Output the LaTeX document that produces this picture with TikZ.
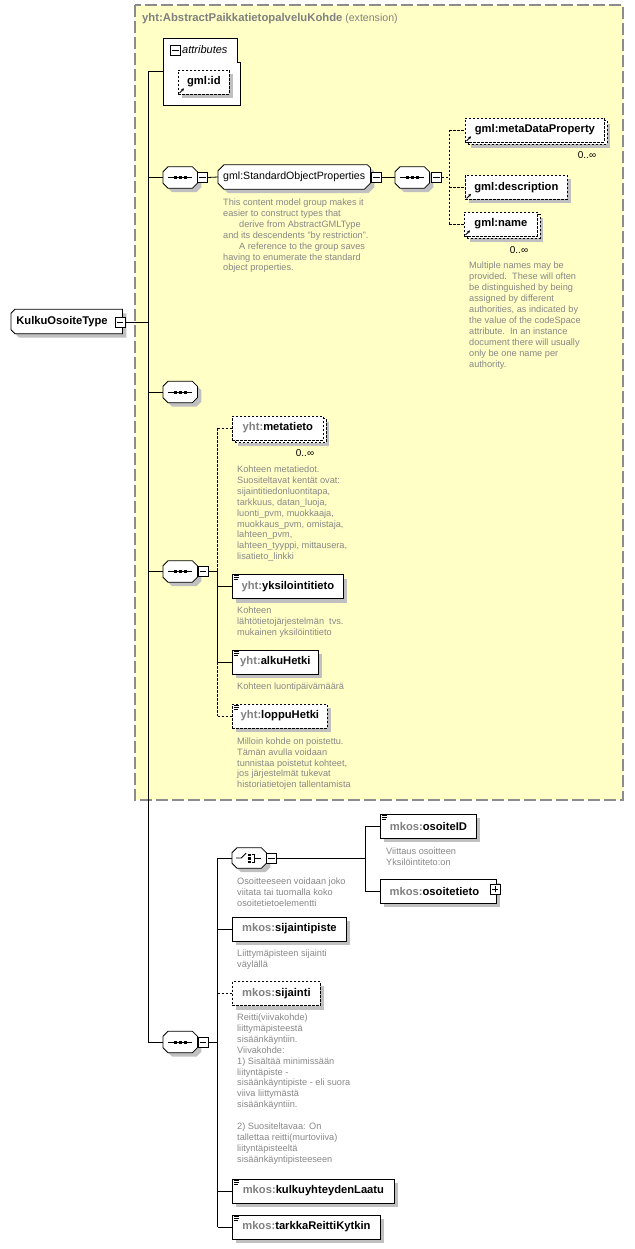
\documentclass[tikz,border=0pt]{standalone}
\usepackage{fontspec}
\setmainfont{Liberation Sans}
\usetikzlibrary{shadows,arrows.meta,calc}
\definecolor{ybg}{HTML}{FFFFC6}
\definecolor{pfx}{HTML}{808080}
\definecolor{dsc}{HTML}{878787}
\definecolor{shd}{HTML}{C0C0C0}
\definecolor{frm}{HTML}{8C8C8C}
\newcommand\lblfont{\fontsize{11.2}{13}\selectfont\bfseries}
\newcommand\regfont{\fontsize{10.6}{12}\selectfont}
\newcommand\dscfont{\fontsize{9.2}{10.9}\selectfont\color{dsc}}
\newcommand\pre[1]{\textcolor{pfx}{#1}}
\tikzset{
  shdw/.style={drop shadow={shadow xshift=4pt,shadow yshift=-4pt,opacity=1,fill=shd}},
  conn/.style={line width=0.8pt},
  optconn/.style={conn, dash pattern=on 2.5pt off 1.5pt},
  elbox/.style={draw=black, fill=white, line width=0.8pt, minimum height=24pt, inner sep=0pt, anchor=west, font=\lblfont, shdw},
  optbox/.style={elbox, dash pattern=on 2.5pt off 1.5pt},
  multibox/.style={draw=black, fill=white, line width=0.8pt, minimum height=24pt, inner sep=0pt, anchor=west, font=\lblfont, dash pattern=on 2.5pt off 1.5pt,
     drop shadow={shadow xshift=6pt,shadow yshift=-6pt,opacity=1,fill=shd},
     copy shadow={shadow xshift=2.5pt,shadow yshift=-2.5pt,opacity=1,fill=white,draw=black}},
  desc/.style={anchor=north west, align=left, inner sep=0pt, font=\dscfont},
  occ/.style={anchor=center, inner sep=0pt, font=\fontsize{10}{11}\selectfont},
  minbox/.style={draw=black, fill=white, line width=0.8pt, minimum width=10pt, minimum height=10pt, inner sep=0pt},
  holder/.style={anchor=west, inner sep=0pt, minimum width=34pt, minimum height=21pt}
}
\newcommand\octpath[1]{([xshift=5pt]#1.north west) -- ([xshift=-5pt]#1.north east) -- ([yshift=-5pt]#1.north east) -- ([yshift=5pt]#1.south east) -- ([xshift=-5pt]#1.south east) -- ([xshift=5pt]#1.south west) -- ([yshift=5pt]#1.south west) -- ([yshift=-5pt]#1.north west) -- cycle}
\newcommand\mkoct[3]{\node[holder] (#1) at (#2,#3) {};
  \draw[conn, fill=white, shdw] \octpath{#1};}
\newcommand\seqicon[1]{\draw[conn] ([xshift=5pt]#1.west) -- ([xshift=-5pt]#1.east);
  \foreach \dx in {-5,0,5} {\fill ([xshift=\dx pt]#1.center) +(-1.5pt,-1.5pt) rectangle +(1.5pt,1.5pt);}}
\newcommand\minusat[3]{\node[minbox] (#1) at (#2,#3) {};
  \draw[line width=0.8pt] ([xshift=2pt]#1.west) -- ([xshift=-2pt]#1.east);}
\newcommand\plusat[3]{\minusat{#1}{#2}{#3}
  \draw[line width=0.8pt] ([yshift=2pt]#1.south) -- ([yshift=-2pt]#1.north);}
\newcommand\simpicon[1]{\draw[line width=0.7pt] ([xshift=2pt,yshift=-1.5pt]#1.north west) -- ++(5pt,0pt)
  ([xshift=2pt,yshift=-3.5pt]#1.north west) -- ++(5pt,0pt)
  ([xshift=2pt,yshift=-5.5pt]#1.north west) -- ++(3.5pt,0pt);}
\newcommand\refarrow[1]{\draw[line width=0.9pt,-{Stealth[length=3pt,width=3pt]}] ([xshift=1.5pt,yshift=1.5pt]#1.south west) -- ++(4.5pt,4.5pt);}
\begin{document}
\begin{tikzpicture}[x=1pt,y=-1pt]
\useasboundingbox (0,0) rectangle (634,1249);
% extension frame
\draw[frm, line width=1.2pt, dash pattern=on 12pt off 4pt, fill=ybg] (135,5) rectangle (623,800);
\node[anchor=west, inner sep=0pt, text=pfx] (title) at (142,18.5) {{\fontsize{11.3}{13}\selectfont\bfseries yht:AbstractPaikkatietopalveluKohde} {\regfont(extension)}};

% root type
\node[anchor=west, minimum width=111pt, minimum height=24pt, inner sep=0pt] (type) at (11,321.5) {};
\draw[conn, fill=white, shdw] ([xshift=4pt]type.north west) -- (type.north east) -- (type.south east) -- ([xshift=4pt]type.south west) -- ([yshift=4pt]type.south west) -- ([yshift=-4pt]type.north west) -- cycle;
\node[font=\lblfont, inner sep=0pt] (typeLbl) at (62,321.5) {KulkuOsoiteType};
\minusat{typeMinus}{120}{322}

% attributes
\node[anchor=north west, minimum width=77pt, minimum height=67pt, inner sep=0pt] (attr) at (163,38) {};
\draw[conn, fill=white] (attr.north west) -- ([xshift=-3.5pt]attr.north east) -- ([xshift=-3.5pt,yshift=-24pt]attr.north east) -- ([yshift=-24pt]attr.north east) -- (attr.south east) -- (attr.south west) -- cycle;
\minusat{attrMinus}{175.5}{50}
\node[anchor=west, inner sep=0pt, font=\fontsize{11}{12}\selectfont\itshape] (attrLbl) at (182,50) {attributes};
\node[optbox, minimum width=51pt] (gmlid) at (178,82) {gml:id};
\refarrow{gmlid}

% sequence 1 and group
\mkoct{seq1}{163}{177.5}\seqicon{seq1}
\minusat{seq1Minus}{202.3}{177.5}
\node[anchor=west, minimum width=152pt, minimum height=24pt, inner sep=0pt] (sop) at (218,177) {};
\draw[conn, fill=white, shdw] ([xshift=6pt]sop.north west) -- ([xshift=-3pt]sop.north east) -- ([yshift=-3pt]sop.north east) -- ([yshift=6pt]sop.south east) -- ([xshift=-6pt]sop.south east) -- ([xshift=6pt]sop.south west) -- ([yshift=6pt]sop.south west) -- ([yshift=-6pt]sop.north west) -- cycle;
\node[font=\regfont, inner sep=0pt] (sopLbl) at (sop.center) {gml:StandardObjectProperties};
\minusat{sopMinus}{376.5}{177.5}
\node[desc] (dSop) at (223,197.7) {\strut This content model group makes it\\
easier to construct types that\\
\hspace*{16pt}derive from AbstractGMLType\\
and its descendents "by restriction".\\
\hspace*{16pt}A reference to the group saves\\
having to enumerate the standard\\
object properties.};

\mkoct{seq2}{395}{177.5}\seqicon{seq2}
\minusat{seq2Minus}{436.5}{177.5}
\node[multibox, minimum width=139pt] (meta) at (465,130) {gml:metaDataProperty};
\refarrow{meta}
\node[occ] (metaOcc) at (587,155.5) {0..∞};
\node[optbox, minimum width=102pt] (gdesc) at (465,187.5) {gml:description};
\refarrow{gdesc}
\node[multibox, minimum width=73pt] (gname) at (464,224) {gml:name};
\refarrow{gname}
\node[occ] (nameOcc) at (519,250.5) {0..∞};
\node[desc] (dName) at (469,261.1) {\strut Multiple names may be\\
provided.\ \ These will often\\
be distinguished by being\\
assigned by different\\
authorities, as indicated by\\
the value of the codeSpace\\
attribute.\ \ In an instance\\
document there will usually\\
only be one name per\\
authority.};

% sequence 3 (empty)
\mkoct{seq3}{163}{392}\seqicon{seq3}

% sequence 4
\mkoct{seq4}{163}{571.5}\seqicon{seq4}
\minusat{seq4Minus}{203}{571.5}
\node[multibox, minimum width=91pt] (metatieto) at (232,428) {\pre{yht:}metatieto};
\node[occ] (mtOcc) at (305,453.5) {0..∞};
\node[desc] (dMeta) at (237,464.7) {\strut Kohteen metatiedot.\\
Suositeltavat kentät ovat:\\
sijaintitiedonluontitapa,\\
tarkkuus, datan\_luoja,\\
luonti\_pvm, muokkaaja,\\
muokkaus\_pvm, omistaja,\\
lahteen\_pvm,\\
lahteen\_tyyppi, mittausera,\\
lisatieto\_linkki};
\node[elbox, minimum width=111pt] (yksil) at (232,586.5) {\pre{yht:}yksilointitieto};
\simpicon{yksil}
\node[desc] (dYksil) at (237,606.1) {\strut Kohteen\\
lähtötietojärjestelmän\ \ tvs.\\
mukainen yksilöintitieto};
\node[elbox, minimum width=86pt] (alku) at (232,662) {\pre{yht:}alkuHetki};
\simpicon{alku}
\node[desc] (dAlku) at (237,682.1) {\strut Kohteen luontipäivämäärä};
\node[optbox, minimum width=95pt] (loppu) at (232,716) {\pre{yht:}loppuHetki};
\simpicon{loppu}
\node[desc] (dLoppu) at (237,736.4) {\strut Milloin kohde on poistettu.\\
Tämän avulla voidaan\\
tunnistaa poistetut kohteet,\\
jos järjestelmät tukevat\\
historiatietojen tallentamista};

% sequence 5
\mkoct{seq5}{163}{1042}\seqicon{seq5}
\minusat{seq5Minus}{203}{1042}
\node[holder, minimum height=20pt] (choice) at (232,858) {};
\draw[conn, fill=white, shdw] \octpath{choice};
\draw[conn] ($(choice.center)+(-13,0)$) -- ++(5,0) -- ++(5,-5);
\foreach \dy in {-4.5,-1,2.5} {\fill ($(choice.center)+(-1,\dy)$) rectangle ++(2.5,2.5);}
\draw[conn] ($(choice.center)+(2.5,-4)$) -- ++(3,0) -- ++(0,8) -- ++(-3,0);
\draw[conn] ($(choice.center)+(5.5,0)$) -- ++(6,0);
\minusat{choiceMinus}{271.5}{858}
\node[desc] (dChoice) at (237,876.4) {\strut Osoitteeseen voidaan joko\\
viitata tai tuomalla koko\\
osoitetietoelementti};
\node[elbox, minimum width=96pt] (osoiteID) at (380,826) {\pre{mkos:}osoiteID};
\simpicon{osoiteID}
\node[desc] (dOsID) at (386,846.4) {\strut Viittaus osoitteen\\
Yksilöintiteto:on};
\node[elbox, minimum width=116pt] (osoitetieto) at (380,891) {\pre{mkos:}osoitetieto\hspace*{8pt}};
\plusat{osPlus}{495}{889}
\node[elbox, minimum width=114pt] (sijaintipiste) at (232,929) {\pre{mkos:}sijaintipiste};
\node[desc] (dSp) at (237,948.7) {\strut Liittymäpisteen sijainti\\
väylällä};
\node[optbox, minimum width=88pt] (sijainti) at (232,993.5) {\pre{mkos:}sijainti};
\node[desc] (dSij) at (237,1012.7) {\strut Reitti(viivakohde)\\
liittymäpisteestä\\
sisäänkäyntiin.\\
Viivakohde:\\
1) Sisältää minimissään\\
liityntäpiste -\\
sisäänkäyntipiste - eli suora\\
viiva liittymästä\\
sisäänkäyntiin.\\[10.9pt]
2) Suositeltavaa: On\\
tallettaa reitti(murtoviiva)\\
liityntäpisteeltä\\
sisäänkäyntipisteeseen};
\node[elbox, minimum width=162pt] (kulku) at (232,1191) {\pre{mkos:}kulkuyhteydenLaatu};
\simpicon{kulku}
\node[elbox, minimum width=148pt] (tarkka) at (232,1227) {\pre{mkos:}tarkkaReittiKytkin};
\simpicon{tarkka}

% connectors
\coordinate (tr) at (148,0);
\coordinate (v2) at (449,0);
\coordinate (v4) at (217.5,0);
\coordinate (vc) at (365,0);
\draw[conn] (typeMinus.east) -- (typeMinus.east -| tr);
\draw[conn] (attr.west) -- (attr.west -| tr) -- (seq5.west -| tr) -- (seq5.west);
\draw[conn] (seq1.west) -- (seq1.west -| tr);
\draw[conn] (seq3.west) -- (seq3.west -| tr);
\draw[conn] (seq4.west) -- (seq4.west -| tr);
\draw[conn] (seq1Minus.east) -- (sop.west);
\draw[conn] (sopMinus.east) -- (seq2.west);
\draw[optconn] (seq2Minus.east) -- (seq2Minus.east -| v2);
\draw[optconn] (meta.west -| v2) -- (gname.west -| v2);
\draw[optconn] (meta.west -| v2) -- (meta.west);
\draw[optconn] (gdesc.west -| v2) -- (gdesc.west);
\draw[optconn] (gname.west -| v2) -- (gname.west);
\draw[conn] (seq4Minus.east) -- (seq4Minus.east -| v4);
\draw[optconn] (metatieto.west -| v4) -- (seq4Minus.east -| v4);
\draw[conn] (seq4Minus.east -| v4) -- (alku.west -| v4);
\draw[optconn] (alku.west -| v4) -- (loppu.west -| v4);
\draw[optconn] (metatieto.west -| v4) -- (metatieto.west);
\draw[conn] (yksil.west -| v4) -- (yksil.west);
\draw[conn] (alku.west -| v4) -- (alku.west);
\draw[optconn] (loppu.west -| v4) -- (loppu.west);
\draw[conn] (seq5Minus.east) -- (seq5Minus.east -| v4);
\draw[conn] (choice.west -| v4) -- (tarkka.west -| v4);
\draw[conn] (choice.west -| v4) -- (choice.west);
\draw[conn] (sijaintipiste.west -| v4) -- (sijaintipiste.west);
\draw[optconn] (sijainti.west -| v4) -- (sijainti.west);
\draw[conn] (kulku.west -| v4) -- (kulku.west);
\draw[conn] (tarkka.west -| v4) -- (tarkka.west);
\draw[conn] (choiceMinus.east) -- (choiceMinus.east -| vc);
\draw[conn] (osoiteID.west -| vc) -- (osoitetieto.west -| vc);
\draw[conn] (osoiteID.west -| vc) -- (osoiteID.west);
\draw[conn] (osoitetieto.west -| vc) -- (osoitetieto.west);
\end{tikzpicture}
\end{document}
